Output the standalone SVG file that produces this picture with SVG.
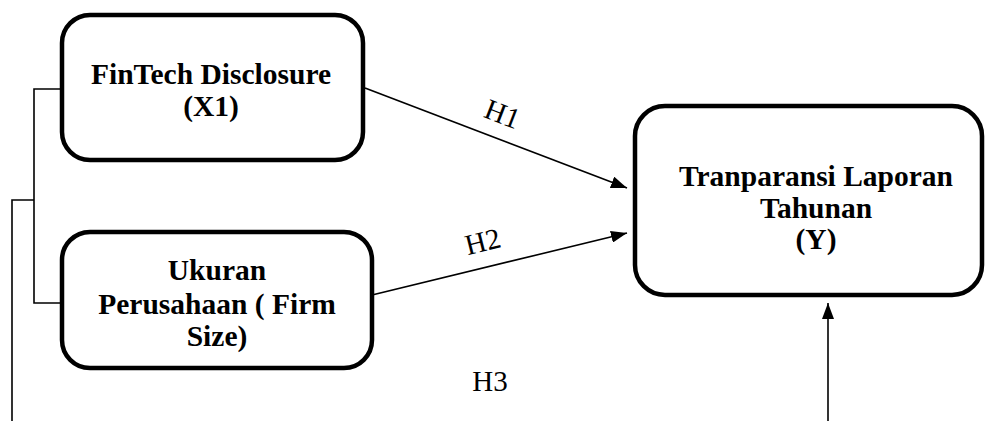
<svg xmlns="http://www.w3.org/2000/svg" width="985" height="421" viewBox="0 0 985 421">
<style>
.box{fill:#fff;stroke:#000;stroke-width:4.5}
.ln{fill:none;stroke:#000;stroke-width:1.6}
.t{font-family:"Liberation Serif","Times New Roman",serif;font-weight:bold;font-size:29.5px;text-anchor:middle;fill:#000}
.h{font-family:"Liberation Serif","Times New Roman",serif;font-size:29px;text-anchor:middle;fill:#000}
</style>
<defs>
<marker id="arr" viewBox="0 0 16 12" refX="16" refY="6" markerWidth="16" markerHeight="12" markerUnits="userSpaceOnUse" orient="auto">
<path d="M0,0 L16,6 L0,12 Z" fill="#000"/>
</marker>
</defs>
<g id="connectors">
<polyline class="ln" points="62,89 34,89 34,303 62,303"/>
<polyline class="ln" points="34,200 12,200 12,421"/>
<line class="ln" x1="365" y1="88" x2="627" y2="188" marker-end="url(#arr)"/>
<line class="ln" x1="372" y1="295" x2="627" y2="233" marker-end="url(#arr)"/>
<line class="ln" x1="828" y1="421" x2="828" y2="303" marker-end="url(#arr)"/>
<text class="h" transform="translate(499,123) rotate(21)">H1</text>
<text class="h" transform="translate(485,251) rotate(-14)">H2</text>
<text class="h" x="490" y="391">H3</text>
</g>
<g id="x1">
<rect class="box" x="62" y="15" width="301" height="145" rx="28"/>
<text class="t" x="211" y="84">FinTech Disclosure</text>
<text class="t" x="211" y="116">(X1)</text>
</g>
<g id="firmsize">
<rect class="box" x="62" y="232" width="310" height="136" rx="28"/>
<text class="t" x="217" y="280">Ukuran</text>
<text class="t" x="217" y="314">Perusahaan ( Firm</text>
<text class="t" x="217" y="346">Size)</text>
</g>
<g id="y">
<rect class="box" x="635" y="106" width="347" height="189" rx="30"/>
<text class="t" x="816" y="186">Tranparansi Laporan</text>
<text class="t" x="816" y="218">Tahunan</text>
<text class="t" x="816" y="249">(Y)</text>
</g>
</svg>
